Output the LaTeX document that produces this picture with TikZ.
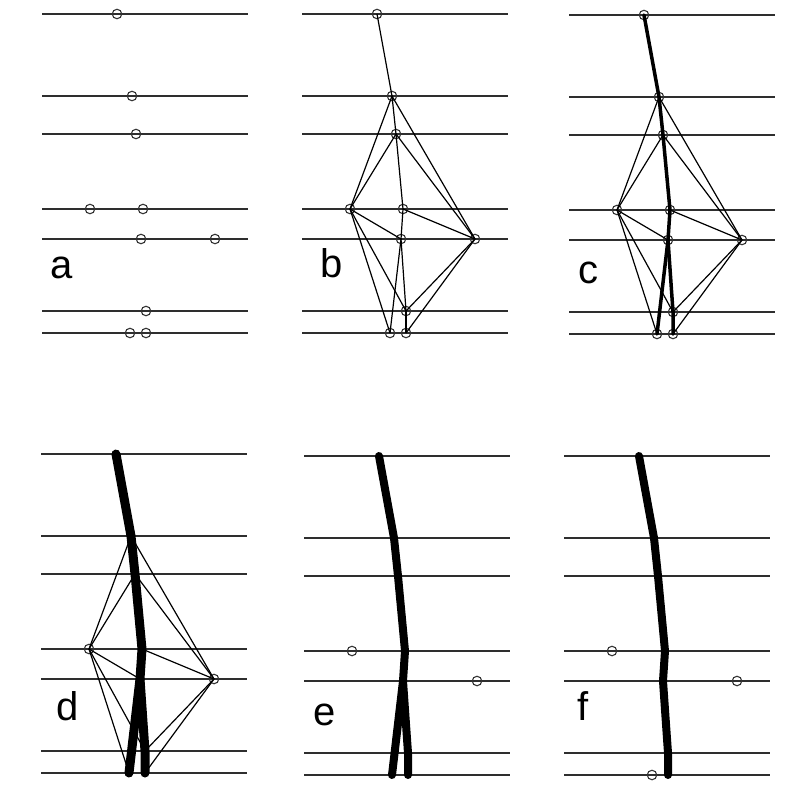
\documentclass[tikz,border=0pt]{standalone}
\usepackage{fontspec}
\setmainfont{Liberation Sans}
\tikzset{
  frameline/.style={line width=2pt, draw=black!82},
  pt/.style={circle, draw=black!80, line width=1.1pt, inner sep=0pt, minimum size=9.5pt},
  hid/.style={inner sep=0pt, minimum size=0pt},
  edgeline/.style={line width=1.2pt, draw=black},
  trackc/.style={line width=3.5pt, line cap=round, line join=round, draw=black},
  trackd/.style={line width=9pt, line cap=round, line join=round, draw=black},
  tracke/.style={line width=8pt, line cap=round, line join=round, draw=black},
  lab/.style={font=\fontsize{40}{40}\selectfont, anchor=base west, inner sep=0pt},
}
\newcommand\frames{%
  \foreach \yy in {14,96,134,209,239,311,333} {\draw[frameline] (302,\yy) -- (508,\yy);}}
\newcommand\mknodes[4]{%
  \node[#2] (#1n1) at (377,14) {};
  \node[#2] (#1n2) at (392,96) {};
  \node[#2] (#1n3) at (396,134) {};
  \node[#3] (#1L)  at (350,209) {};
  \node[#2] (#1M4) at (403,209) {};
  \node[#2] (#1M5) at (401,239) {};
  \node[#3] (#1R)  at (475,239) {};
  \node[#2] (#1n6) at (406,311) {};
  \node[#4] (#1BL) at (390,333) {};
  \node[#2] (#1BR) at (406,333) {};
}
\newcommand\alledges[1]{%
  \foreach \u/\v in {n1/n2,n2/n3,n2/L,n2/R,n3/L,n3/M4,n3/R,L/M5,L/n6,L/BL,M4/M5,M4/R,M5/BL,M5/n6,R/n6,R/BR,n6/BR}
    {\draw[edgeline] (#1\u.center) -- (#1\v.center);}}
\newcommand\trackboth[2]{%
  \draw[#2] (#1n1.center) -- (#1n2.center) -- (#1n3.center) -- (#1M4.center) -- (#1M5.center) -- (#1BL.center);
  \draw[#2] (#1M5.center) -- (#1n6.center) -- (#1BR.center);}
\newcommand\trackone[2]{%
  \draw[#2] (#1n1.center) -- (#1n2.center) -- (#1n3.center) -- (#1M4.center) -- (#1M5.center) -- (#1n6.center) -- (#1BR.center);}
\begin{document}
\begin{tikzpicture}[x=1pt, y=-1pt]
\path[use as bounding box] (0,0) rectangle (796,785);
% panel a
\begin{scope}[xshift=-260pt]
  \frames
  \mknodes{a}{pt}{pt}{pt}
\end{scope}
% panel b
\begin{scope}
  \frames
  \mknodes{b}{pt}{pt}{pt}
  \alledges{b}
\end{scope}
% panel c
\begin{scope}[xshift=267pt, yshift=-1pt]
  \frames
  \mknodes{c}{pt}{pt}{pt}
  \alledges{c}
  \trackboth{c}{trackc}
\end{scope}
% panel d
\begin{scope}[xshift=-261pt, yshift=-440pt]
  \frames
  \mknodes{d}{hid}{pt}{hid}
  \alledges{d}
  \trackboth{d}{trackd}
\end{scope}
% panel e
\begin{scope}[xshift=2pt, yshift=-442pt]
  \frames
  \mknodes{e}{hid}{pt}{hid}
  \trackboth{e}{tracke}
\end{scope}
% panel f
\begin{scope}[xshift=262pt, yshift=-442pt]
  \frames
  \mknodes{f}{hid}{pt}{pt}
  \trackone{f}{tracke}
\end{scope}
% labels
\node[lab] (la) at (50,278) {a};
\node[lab] (lb) at (320,277) {b};
\node[lab] (lc) at (578,283) {c};
\node[lab] (ld) at (56,720) {d};
\node[lab] (le) at (313,725) {e};
\node[lab] (lf) at (577,720) {f};
\end{tikzpicture}
\end{document}
